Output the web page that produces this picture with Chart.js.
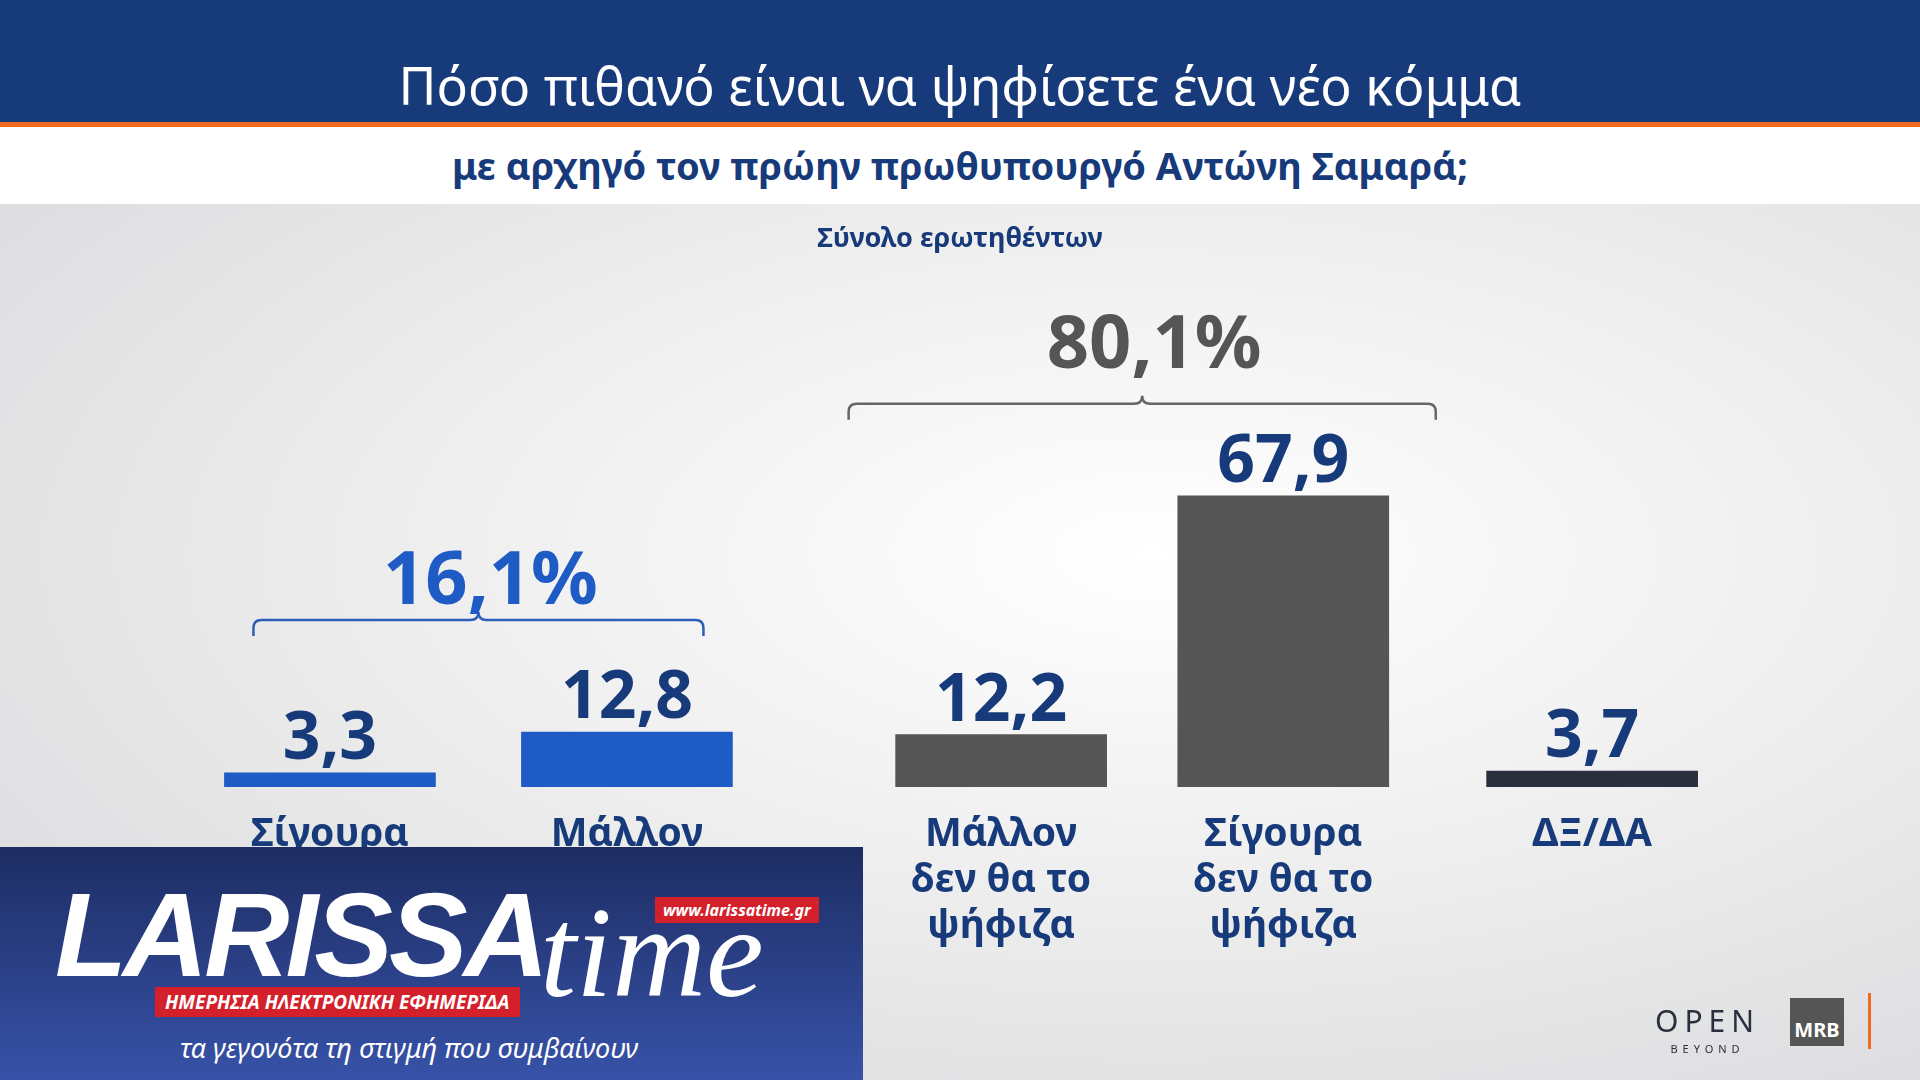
<!DOCTYPE html>
<html>
<head>
<meta charset="utf-8">
<script src="https://cdn.jsdelivr.net/npm/chart.js@4/dist/chart.umd.min.js"></script>
<style>
  html, body { margin: 0; padding: 0; width: 1920px; height: 1080px; overflow: hidden; font-family: "Noto Sans", sans-serif; }
  #bg { position: absolute; left: 0; top: 204px; width: 1920px; height: 876px;
        background: radial-gradient(ellipse at 60% 40%, #ffffff 0%, #eeeeee 45%, #d6d7da 100%); }
  #top { position: absolute; left: 0; top: 0; width: 1920px; height: 122px; background: #173a7a;
         border-bottom: 5px solid #f26a21; color: #fff; font-size: 52px; text-align: center; }
  #top span { position: absolute; left: 0; width: 1920px; top: 50px; line-height: 70px; }
  #sub { position: absolute; left: 0; top: 127px; width: 1920px; height: 77px; background: #fff;
         color: #173a7a; font-weight: bold; font-size: 38px; text-align: center; line-height: 77px; }
  #chartBox { position: absolute; left: 0; top: 0; width: 1920px; height: 1080px; }
  #logo { position: absolute; left: 0; top: 847px; width: 863px; height: 233px;
          background: linear-gradient(180deg, #1d2d63 0%, #3752a8 100%); color: #fff; }
  #logo .big { position: absolute; left: 55px; top: 20px; font-size: 118px; font-weight: 900; font-style: italic; letter-spacing: -4px; font-family: "Liberation Sans", sans-serif; }
  #logo .time { position: absolute; left: 540px; top: 30px; font-size: 130px; font-style: italic; font-family: "Liberation Serif", serif; }
  #logo .red { position: absolute; left: 155px; top: 140px; background: #d4202a; font-size: 19px; font-weight: bold; font-style: italic; padding: 2px 10px; }
  #logo .www { position: absolute; left: 655px; top: 50px; background: #d4202a; font-size: 16px; font-weight: bold; font-style: italic; padding: 2px 8px; }
  #logo .tag { position: absolute; left: 180px; top: 182px; font-size: 27px; font-style: italic; }
  #open { position: absolute; left: 1655px; top: 1000px; color: #2a2f3d; font-size: 30px; letter-spacing: 6px; }
  #open small { display: block; font-size: 11px; letter-spacing: 5px; text-align: center; }
  #mrb { position: absolute; left: 1790px; top: 998px; width: 54px; height: 48px; background: #555; color: #fff;
         font-weight: bold; font-size: 20px; text-align: center; line-height: 64px; }
  #bar { position: absolute; left: 1868px; top: 993px; width: 3px; height: 56px; background: #f26a21; }
</style>
</head>
<body>
<div id="bg"></div>
<div id="top"><span>Πόσο πιθανό είναι να ψηφίσετε ένα νέο κόμμα</span></div>
<div id="sub">με αρχηγό τον πρώην πρωθυπουργό Αντώνη Σαμαρά;</div>
<div id="chartBox"><canvas id="c" width="1920" height="1080"></canvas></div>
<div id="logo">
  <div class="big">LARISSA</div>
  <div class="time">time</div>
  <div class="www">www.larissatime.gr</div>
  <div class="red">ΗΜΕΡΗΣΙΑ ΗΛΕΚΤΡΟΝΙΚΗ ΕΦΗΜΕΡΙΔΑ</div>
  <div class="tag">τα γεγονότα τη στιγμή που συμβαίνουν</div>
</div>
<div id="open">OPEN<small>BEYOND</small></div>
<div id="mrb">MRB</div>
<div id="bar"></div>
<script>
const categories = [['Σίγουρα'], ['Μάλλον'], ['Μάλλον', 'δεν θα το', 'ψήφιζα'], ['Σίγουρα', 'δεν θα το', 'ψήφιζα'], ['ΔΞ/ΔΑ']];
const values = [3.3, 12.8, 12.2, 67.9, 3.7];
const valueLabels = ['3,3', '12,8', '12,2', '67,9', '3,7'];
const slots = [0, 1, 2.26, 3.21, 4.25];
const barColors = ['#1f5bc4', '#1f5bc4', '#555555', '#555555', '#2a2f3d'];
const groups = [
  { from: 0, to: 1, label: '16,1%', color: '#1f5bc4', lineColor: '#2d5fb8', pad: -29, rise: 112, gap: 16 },
  { from: 2, to: 3, label: '80,1%', color: '#555555', lineColor: '#666666', pad: 47, rise: 92, gap: 36 }
];
const subtitle = 'Σύνολο ερωτηθέντων';

const NAVY = '#173a7a';
const FONT = '"Noto Sans", sans-serif';

const overlay = {
  id: 'overlay',
  afterDatasetsDraw(chart) {
    const ctx = chart.ctx;
    const xs = chart.scales.x, ys = chart.scales.y;
    ctx.save();
    ctx.textAlign = 'center';
    ctx.fillStyle = NAVY;
    ctx.font = 'bold 27px ' + FONT;
    ctx.textBaseline = 'middle';
    ctx.fillText(subtitle, 960, 239);

    values.forEach((v, i) => {
      const x = xs.getPixelForValue(slots[i]);
      ctx.fillStyle = NAVY;
      ctx.textBaseline = 'alphabetic';
      ctx.font = 'bold 66px ' + FONT;
      ctx.fillText(valueLabels[i], x, ys.getPixelForValue(v) - 14);
      ctx.font = 'bold 39px ' + FONT;
      ctx.textBaseline = 'middle';
      categories[i].forEach((line, j) => ctx.fillText(line, x, 835 + j * 46));
    });

    const bw = 211;
    groups.forEach(g => {
      const x1 = xs.getPixelForValue(slots[g.from]) - bw / 2 - g.pad;
      const x2 = xs.getPixelForValue(slots[g.to]) + bw / 2 + g.pad;
      const top = Math.max(values[g.from], values[g.to]);
      const yb = ys.getPixelForValue(top) - g.rise;
      const mid = (x1 + x2) / 2, r = 8;
      ctx.strokeStyle = g.lineColor;
      ctx.lineWidth = 2.5;
      ctx.beginPath();
      ctx.moveTo(x1, yb + 16);
      ctx.lineTo(x1, yb + r);
      ctx.quadraticCurveTo(x1, yb, x1 + r, yb);
      ctx.lineTo(mid - r, yb);
      ctx.quadraticCurveTo(mid, yb, mid, yb - r);
      ctx.quadraticCurveTo(mid, yb, mid + r, yb);
      ctx.lineTo(x2 - r, yb);
      ctx.quadraticCurveTo(x2, yb, x2, yb + r);
      ctx.lineTo(x2, yb + 16);
      ctx.stroke();
      ctx.fillStyle = g.color;
      ctx.font = 'bold 74px ' + FONT;
      ctx.textBaseline = 'alphabetic';
      ctx.fillText(g.label, mid + 12, yb - g.gap);
    });
    ctx.restore();
  }
};

new Chart(document.getElementById('c').getContext('2d'), {
  type: 'bar',
  data: {
    datasets: [{
      data: values.map((v, i) => ({ x: slots[i], y: v })),
      backgroundColor: barColors,
      barThickness: 211
    }]
  },
  options: {
    responsive: false,
    animation: false,
    layout: { padding: { top: 358, bottom: 293, left: 0, right: 0 } },
    plugins: { legend: { display: false }, tooltip: { enabled: false } },
    scales: {
      x: { type: 'linear', offset: false, min: -1.111, max: 5.354, display: false },
      y: { min: 0, max: 100, display: false }
    }
  },
  plugins: [overlay]
});
</script>
</body>
</html>
